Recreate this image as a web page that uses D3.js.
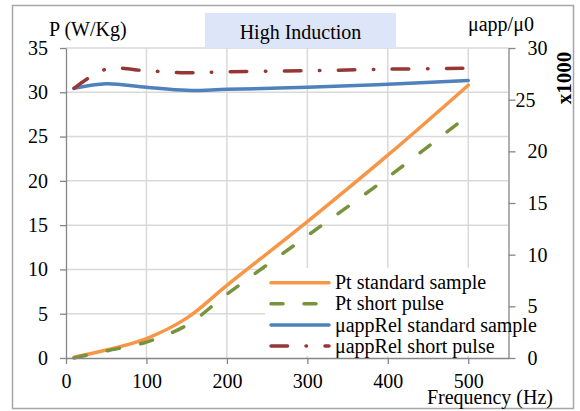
<!DOCTYPE html>
<html>
<head>
<meta charset="utf-8">
<script src="https://cdn.jsdelivr.net/npm/d3@7"></script>
<style>
  body { margin: 0; background: #fff; }
  svg text { font-family: "Liberation Serif", "Tinos", "Times New Roman", "DejaVu Serif", serif; fill: #000; }
</style>
</head>
<body>
<div id="chart"></div>
<script>
// values
const freq = [10, 50, 100, 150, 200, 300, 400, 500];
const ptStandard = [0.1, 0.9, 2.2, 4.5, 8.2, 15.4, 22.9, 30.8];
const ptShort = [0.0, 0.8, 1.8, 3.7, 7.2, 13.8, 20.4, 27.4];
const muStandard = [26.1, 26.55, 26.2, 25.9, 26.0, 26.2, 26.5, 26.85];
const muShort = [26.1, 27.95, 27.8, 27.6, 27.7, 27.8, 27.95, 28.05];

const xTicks = [0, 100, 200, 300, 400, 500];
const leftTicks = [0, 5, 10, 15, 20, 25, 30, 35];
const rightTicks = [0, 5, 10, 15, 20, 25, 30];
const legendLabels = ["Pt standard sample", "Pt short pulse", "\u03bcappRel standard sample", "\u03bcappRel short pulse"];

const width = 580;
const height = 411;
const serif = "'Liberation Serif', 'Tinos', 'Times New Roman', 'DejaVu Serif', serif";

const svg = d3.select("#chart")
    .append("svg")
    .attr("width", width)
    .attr("height", height)
    .attr("font-family", serif);

// outer frame
svg.append("rect")
    .attr("x", 12.5).attr("y", 5.5)
    .attr("width", 561).attr("height", 403)
    .attr("fill", "#fff")
    .attr("stroke", "#a6a6a6")
    .attr("stroke-width", 1.5);

const x = d3.scaleLinear().domain([0, 550]).range([66, 508.5]);
const yLeft = d3.scaleLinear().domain([0, 35]).range([358, 48]);
const yRight = d3.scaleLinear().domain([0, 30]).range([358, 48]);

// gridlines
const grid = svg.append("g").attr("class", "grid");
grid.selectAll("line.v")
    .data(xTicks.slice(1))
    .enter()
    .append("line")
    .attr("x1", (d) => x(d)).attr("x2", (d) => x(d))
    .attr("y1", yLeft(0)).attr("y2", yLeft(35))
    .style("stroke", "#d9d9d9")
    .style("stroke-width", 1.5);
grid.selectAll("line.h")
    .data(leftTicks.slice(1))
    .enter()
    .append("line")
    .attr("x1", x(0)).attr("x2", x(550))
    .attr("y1", (d) => yLeft(d)).attr("y2", (d) => yLeft(d))
    .style("stroke", "#d9d9d9")
    .style("stroke-width", 1.5);

// series
const series = [
    { values: ptStandard, y: yLeft, color: "#f79646", dash: null },
    { values: ptShort, y: yLeft, color: "#77933c", dash: "12.5,21.5" },
    { values: muStandard, y: yRight, color: "#4f81bd", dash: null },
    { values: muShort, y: yRight, color: "#953735", dash: "16.5,18.5,0.5,18.5" },
];

series.forEach((s) => {
    const line = d3.line()
        .x((d, i) => x(freq[i]))
        .y((d) => s.y(d))
        .curve(d3.curveCatmullRom.alpha(0.5));
    svg.append("path")
        .datum(s.values)
        .attr("d", line)
        .attr("fill", "none")
        .attr("stroke", s.color)
        .attr("stroke-width", 3.5)
        .attr("stroke-linecap", "round")
        .attr("stroke-dasharray", s.dash);
});

// axes
function styleAxis(g) {
    g.attr("font-family", serif).attr("font-size", 20);
    g.select(".domain").attr("stroke", "#868686").attr("stroke-width", 1.3);
    g.selectAll(".tick line").attr("stroke", "#868686").attr("stroke-width", 1.3);
    g.selectAll(".tick text").attr("fill", "#000");
}

svg.append("g")
    .attr("transform", `translate(0,${yLeft(0)})`)
    .call(d3.axisBottom(x).tickValues(xTicks).tickSize(6).tickSizeOuter(0).tickPadding(10))
    .call(styleAxis);

svg.append("g")
    .attr("transform", `translate(${x(0)},0)`)
    .call(d3.axisLeft(yLeft).tickValues(leftTicks).tickSize(6).tickSizeOuter(0).tickPadding(12))
    .call(styleAxis);

const rightAxis = svg.append("g")
    .attr("transform", `translate(${x(550)},0)`)
    .call(d3.axisRight(yRight).tickValues(rightTicks).tickSize(7).tickSizeOuter(0).tickPadding(12))
    .call(styleAxis);
// the "25" label sits a bit to the left in the original
rightAxis.selectAll(".tick text").filter((d) => d === 25).attr("x", 7);

// legend
const legend = svg.append("g").attr("class", "legend");
legend.append("rect")
    .attr("x", 265).attr("y", 268)
    .attr("width", 243).attr("height", 88)
    .attr("fill", "#fff");
const legendDash = [null, "12,21", null, "16.5,18.5,0.5,18.5"];
legendLabels.forEach((label, i) => {
    const ly = 282.7 + i * 21.1;
    legend.append("line")
        .attr("x1", 271).attr("x2", 329)
        .attr("y1", ly).attr("y2", ly)
        .attr("stroke", series[i].color)
        .attr("stroke-width", 3.5)
        .attr("stroke-linecap", "round")
        .attr("stroke-dasharray", legendDash[i]);
    legend.append("text")
        .attr("x", 335)
        .attr("y", ly)
        .attr("dy", "0.33em")
        .attr("font-size", 20)
        .text(label);
});

// titles
svg.append("rect")
    .attr("x", 205).attr("y", 13)
    .attr("width", 191).attr("height", 35)
    .attr("fill", "#dce6f8");
svg.append("text")
    .attr("x", 300.5).attr("y", 39)
    .attr("text-anchor", "middle")
    .attr("font-size", 20)
    .text("High Induction");

svg.append("text")
    .attr("x", 49).attr("y", 36)
    .attr("font-size", 20)
    .text("P (W/Kg)");

svg.append("text")
    .attr("x", 468).attr("y", 31)
    .attr("font-size", 20)
    .text("\u03bcapp/\u03bc0");

svg.append("text")
    .attr("transform", "translate(571,78) rotate(-90)")
    .attr("text-anchor", "middle")
    .attr("font-size", 21)
    .attr("font-weight", "bold")
    .text("x1000");

svg.append("text")
    .attr("x", 553).attr("y", 404)
    .attr("text-anchor", "end")
    .attr("font-size", 20)
    .text("Frequency (Hz)");
</script>
</body>
</html>
